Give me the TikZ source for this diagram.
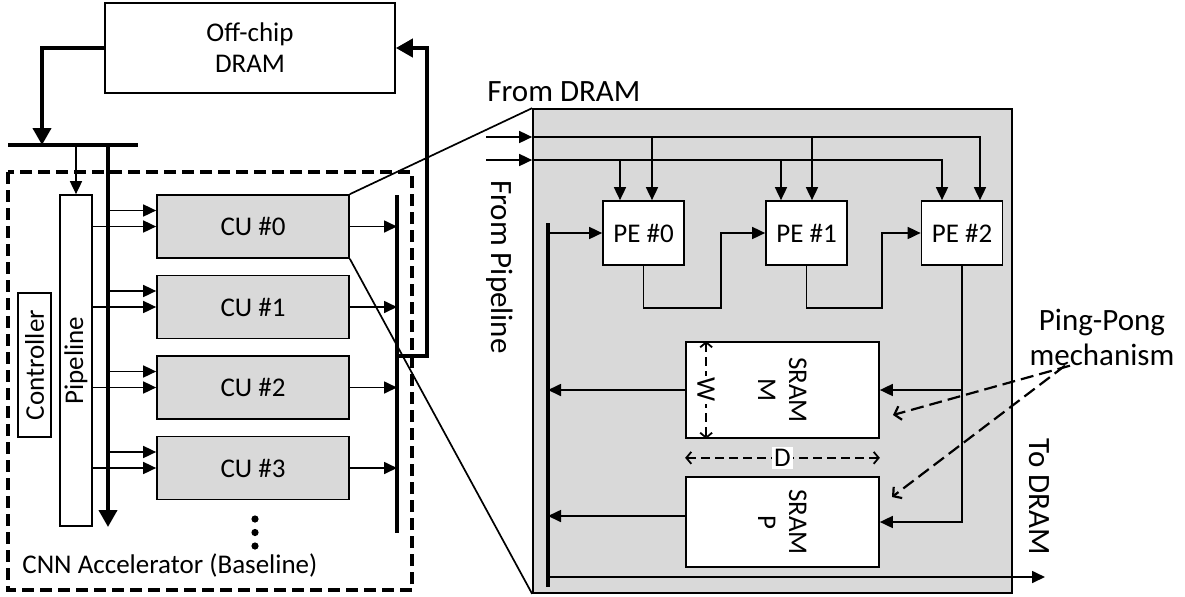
\documentclass[tikz,border=0pt]{standalone}
\usepackage{fontspec}
\setmainfont{Carlito}
\usetikzlibrary{arrows.meta,positioning,calc}
\definecolor{Ink}{HTML}{000000}
\definecolor{Shade}{HTML}{D9D9D9}
\tikzset{
  blk/.style={draw=Ink,line width=0.85pt,fill=white,inner sep=0pt,align=center,text=Ink,font=\fontsize{13.5}{15.5}\selectfont},
  cublk/.style={blk,fill=Shade,minimum width=96pt,minimum height=31.5pt},
  peblk/.style={blk,minimum width=40.5pt,minimum height=32pt},
  sramblk/.style={blk,minimum width=96.5pt},
  lbl/.style={inner sep=0pt,align=center,text=Ink,font=\fontsize{13.5}{15.5}\selectfont},
  biglbl/.style={lbl,font=\fontsize{15.5}{17.5}\selectfont},
  arrow/.style={-{Triangle[length=6.5pt,width=6pt]},line width=0.85pt,draw=Ink},
  boldArrow/.style={-{Triangle[length=8.5pt,width=9pt]},line width=2pt,draw=Ink},
  bus/.style={line width=2pt,draw=Ink},
  wire/.style={line width=0.85pt,draw=Ink},
  dimArrow/.style={{Straight Barb[length=2.5pt,width=6pt]}-{Straight Barb[length=2.5pt,width=6pt]},dash pattern=on 4.5pt off 2.5pt,line width=0.9pt,draw=Ink},
  noteArrow/.style={-{Straight Barb[length=3pt,width=7pt]},dash pattern=on 6.5pt off 3pt,line width=1.1pt,draw=Ink},
  accelFrame/.style={dash pattern=on 6pt off 3pt,line width=1.6pt,draw=Ink}
}
\begin{document}
\begin{tikzpicture}[x=0.5pt,y=-0.5pt]
\useasboundingbox (0,0) rectangle (1185,596);
\node[blk,minimum width=145pt,minimum height=45pt] (dram) at (250,48) {Off-chip\\DRAM};
\draw[accelFrame] (8,172) rectangle (412,590);
\coordinate (inBusL) at (8,145);
\coordinate (inBusR) at (138,145);
\coordinate (inTap) at (42,145);
\draw[bus] (inBusL) -- (inBusR);
\draw[boldArrow] (dram.west) -| (inTap);
\node[blk,minimum width=16pt,minimum height=165.5pt] (pipe) at (76,360.5) {};
\node[lbl,rotate=90] at (pipe) {Pipeline};
\node[blk,minimum width=16.5pt,minimum height=72pt] (ctrl) at (34.5,365) {};
\node[lbl,rotate=90] at (ctrl) {Controller};
\draw[arrow] (pipe.north |- inBusL) -- (pipe.north);
\coordinate (dBusTop) at (108,145);
\coordinate (dBusEnd) at (108,527);
\draw[boldArrow] (dBusTop) -- (dBusEnd);
\coordinate (oBusTop) at (397,195);
\coordinate (oBusEnd) at (397,533);
\draw[bus] (oBusTop) -- (oBusEnd);
\foreach \i in {0,...,3}{
  \node[cublk] (cu\i) at (253,{226.5+80.5*\i}) {CU \#\i};
  \draw[arrow] ([yshift=8pt]cu\i.west -| dBusTop) -- ([yshift=8pt]cu\i.west);
  \draw[arrow] (cu\i.west -| pipe.east) -- (cu\i.west);
  \draw[arrow] (cu\i.east) -- (cu\i.east -| oBusTop);
}
\coordinate (fbTap) at (397,356);
\draw[boldArrow] (fbTap) -- ++(30,0) |- (dram.east);
\foreach \k in {0,1,2} \fill[Ink] (255,{519+13.5*\k}) circle (1.8pt);
\node[lbl,anchor=west] (accel) at (22,565) {CNN Accelerator (Baseline)};

\node[blk,fill=Shade,minimum width=239.5pt,minimum height=242pt] (cuzoom) at (772.5,351) {};
\draw[wire] (cu0.north east) -- (cuzoom.north west);
\draw[wire] (cu0.south east) -- (cuzoom.south west);
\node[biglbl,anchor=west] at (487,92) {From DRAM};
\node[biglbl,rotate=-90] at (500,267) {From Pipeline};
\foreach \i/\x in {0/643.5,1/806.5,2/962}
  \node[peblk] (pe\i) at (\x,233) {PE \#\i};
\coordinate (inA) at (486,137);
\coordinate (inB) at (486,160);
\draw[arrow] (inA) -- (inA -| cuzoom.west);
\draw[arrow] (inB) -- (inB -| cuzoom.west);
\draw[arrow] (inA -| cuzoom.west) -| ([xshift=9pt]pe2.north);
\draw[arrow] (inB -| cuzoom.west) -| ([xshift=-10pt]pe2.north);
\foreach \i/\da/\db in {0/4.25pt/-11.75pt,1/2.75pt/-12.75pt}{
  \draw[arrow] ([xshift=\da]pe\i.north |- inA) -- ([xshift=\da]pe\i.north);
  \draw[arrow] ([xshift=\db]pe\i.north |- inB) -- ([xshift=\db]pe\i.north);
}
\coordinate (pBusTop) at (548,223);
\coordinate (pBusEnd) at (548,587);
\draw[bus] (pBusTop) -- (pBusEnd);
\draw[arrow] (pe0.west -| pBusTop) -- (pe0.west);
\draw[arrow] (pe0.south) -- ++(0,42) -| ([xshift=-22pt]pe1.west) -- (pe1.west);
\draw[arrow] (pe1.south) -- ++(0,42) -| ([xshift=-19.5pt]pe2.west) -- (pe2.west);

\node[sramblk,minimum height=48pt] (sramM) at (782.5,390) {};
\node[lbl,rotate=-90] at (sramM) {SRAM\\M};
\node[sramblk,minimum height=45pt] (sramP) at (782.5,522) {};
\node[lbl,rotate=-90] at (sramP) {SRAM\\P};
\draw[arrow] (pe2.south) |- (sramP.east);
\draw[arrow] (pe2.south |- sramM.east) -- (sramM.east);
\draw[arrow] (sramM.west) -- (sramM.west -| pBusTop);
\draw[arrow] ([yshift=3pt]sramP.west) -- ([yshift=3pt]sramP.west -| pBusTop);
\draw[dimArrow] ([xshift=10.5pt]sramM.north west) -- ([xshift=10.5pt]sramM.south west)
  node[lbl,midway,rotate=-90,fill=white,inner sep=1pt] {W};
\draw[dimArrow] ([yshift=-9.5pt]sramM.south west) -- ([yshift=-9.5pt]sramM.south east)
  node[lbl,midway,fill=white,inner sep=1pt] {D};
\coordinate (outEnd) at (1045,577);
\draw[arrow] (outEnd -| pBusTop) -- (outEnd);
\node[biglbl,rotate=-90] at (1039,497) {To DRAM};

\node[biglbl] (pingpong) at (1102,337) {Ping-Pong\\mechanism};
\coordinate (ppM) at (893,415);
\coordinate (ppP) at (892,497);
\draw[noteArrow] ([xshift=-16pt]pingpong.south) -- (ppM);
\draw[noteArrow] ([xshift=-18.5pt]pingpong.south) -- (ppP);
\end{tikzpicture}
\end{document}
